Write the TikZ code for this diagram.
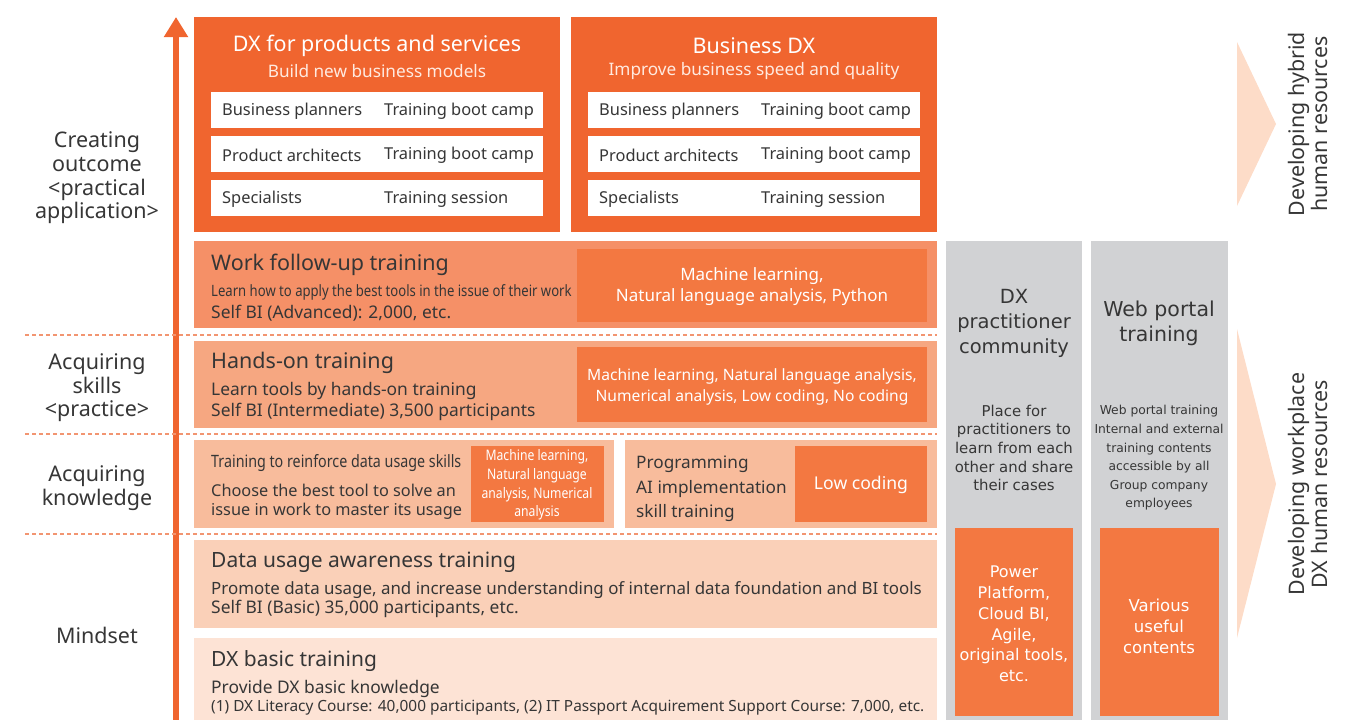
\documentclass[tikz,border=0pt]{standalone}
\usepackage{fontspec}
\setmainfont{Noto Sans}
\newfontfamily\cond[FakeStretch=0.84]{Noto Sans}
\newfontfamily\wide{DejaVu Sans}
\usetikzlibrary{arrows.meta}
\definecolor{ink}{HTML}{363636}
\definecolor{topor}{HTML}{F0652F}
\definecolor{inor}{HTML}{F37841}
\definecolor{bandA}{HTML}{F59067}
\definecolor{bandB}{HTML}{F6A781}
\definecolor{bandC}{HTML}{F8BC9C}
\definecolor{bandD}{HTML}{FAD0B8}
\definecolor{bandE}{HTML}{FDE3D5}
\definecolor{grey}{HTML}{D1D2D4}
\definecolor{dashc}{HTML}{F29571}
\definecolor{chev}{HTML}{FDDCC8}
\definecolor{paleW}{HTML}{FFEAE0}
\newcommand\bx[6]{\node[boxbase,#6,minimum width=#4pt,minimum height=#5pt] (#1) at (#2,#3) {};}
\newcommand\fs[2]{\fontsize{#1}{#2}\selectfont}
\begin{document}
\begin{tikzpicture}[x=1pt,y=-1pt,
  boxbase/.style={anchor=north west,inner sep=0pt,outer sep=0pt,draw=none},
  txt/.style={text=ink,inner sep=0pt,anchor=west},
  ctxt/.style={text=ink,inner sep=0pt,align=center},
  wtxt/.style={text=white,inner sep=0pt,align=center},
  dline/.style={draw=dashc,line width=1.4pt,dash pattern=on 4pt off 3pt}]
\useasboundingbox (0,0) rectangle (1368,720);

% vertical arrow
\coordinate (abot) at (176,720);
\coordinate (atop) at (176,17);
\draw[topor,line width=6pt,-{Triangle[width=23pt,length=20pt]}] (abot) -- (atop);

% left labels
\node[ctxt,font=\fs{21.5}{23.6}] (lab1) at (97,178) {Creating\\outcome\\<practical\\application>};
\node[ctxt,font=\fs{21.5}{23.6}] (lab2) at (97,388) {Acquiring\\skills\\<practice>};
\node[ctxt,font=\fs{21.5}{23.6}] (lab3) at (97,488) {Acquiring\\knowledge};
\node[ctxt,font=\fs{21.5}{23.6}] (lab4) at (97,635) {Mindset};

% dashed separators
\coordinate (d1a) at (25,335); \coordinate (d1b) at (937,335);
\coordinate (d2a) at (25,434); \coordinate (d2b) at (937,434);
\coordinate (d3a) at (25,534); \coordinate (d3b) at (937,534);
\draw[dline] (d1a) -- (d1b);
\draw[dline] (d2a) -- (d2b);
\draw[dline] (d3a) -- (d3b);

% top boxes
\bx{pbox}{194}{17}{366}{215}{fill=topor}
\node[wtxt,font=\fs{21.5}{24}] (ptitle) at (377,46) {DX for products and services};
\node[wtxt,text=paleW,font=\fs{17.2}{19}] (psub) at (377,71) {Build new business models};
\bx{pr1}{211}{92}{332}{36}{fill=white}
\bx{pr2}{211}{136}{332}{36}{fill=white}
\bx{pr3}{211}{180}{332}{36}{fill=white}
\node[txt,font=\fs{16.4}{19}] (pr1a) at (222,111) {Business planners};
\node[txt,font=\fs{16.4}{19}] (pr1b) at (384,111) {Training boot camp};
\node[txt,font=\fs{16.4}{19}] (pr2a) at (222,155) {Product architects};
\node[txt,font=\fs{16.4}{19}] (pr2b) at (384,155) {Training boot camp};
\node[txt,font=\fs{16.4}{19}] (pr3a) at (222,199) {Specialists};
\node[txt,font=\fs{16.4}{19}] (pr3b) at (384,199) {Training session};

\bx{bbox}{571}{17}{366}{215}{fill=topor}
\node[wtxt,font=\fs{21.5}{24}] (btitle) at (754,46) {Business DX};
\node[wtxt,text=paleW,font=\fs{17.2}{19}] (bsub) at (754,71) {Improve business speed and quality};
\bx{br1}{588}{92}{332}{36}{fill=white}
\bx{br2}{588}{136}{332}{36}{fill=white}
\bx{br3}{588}{180}{332}{36}{fill=white}
\node[txt,font=\fs{16.4}{19}] (br1a) at (599,111) {Business planners};
\node[txt,font=\fs{16.4}{19}] (br1b) at (761,111) {Training boot camp};
\node[txt,font=\fs{16.4}{19}] (br2a) at (599,155) {Product architects};
\node[txt,font=\fs{16.4}{19}] (br2b) at (761,155) {Training boot camp};
\node[txt,font=\fs{16.4}{19}] (br3a) at (599,199) {Specialists};
\node[txt,font=\fs{16.4}{19}] (br3b) at (761,199) {Training session};

% work follow-up
\bx{work}{194}{241}{743}{87}{fill=bandA}
\node[txt,font=\fs{21.5}{24}] (workt) at (211,265) {Work follow-up training};
\node[txt,font=\cond\fs{15.6}{18}] (workl1) at (211,292) {Learn how to apply the best tools in the issue of their work};
\node[txt,font=\fs{17.4}{19}] (workl2) at (211,313) {Self BI (Advanced): 2,000, etc.};
\bx{worki}{577}{249}{350}{73}{fill=inor}
\node[wtxt,font=\fs{17}{21}] (workit) at (752,287) {Machine learning,\\Natural language analysis, Python};

% hands-on
\bx{hand}{194}{341}{743}{87}{fill=bandB}
\node[txt,font=\fs{21.5}{24}] (handt) at (211,363) {Hands-on training};
\node[txt,font=\fs{17.4}{19}] (handl1) at (211,391) {Learn tools by hands-on training};
\node[txt,font=\fs{17.4}{19}] (handl2) at (211,412) {Self BI (Intermediate) 3,500 participants};
\bx{handi}{577}{347}{350}{75}{fill=inor}
\node[wtxt,font=\fs{15.6}{21}] (handit) at (752,387) {Machine learning, Natural language analysis,\\Numerical analysis, Low coding, No coding};

% knowledge
\bx{knA}{194}{440}{420}{88}{fill=bandC}
\node[txt,font=\cond\fs{17}{20}] (knAt) at (211,463) {Training to reinforce data usage skills};
\node[txt,font=\fs{16.3}{19}] (knAl1) at (211,490) {Choose the best tool to solve an};
\node[txt,font=\fs{16.3}{19}] (knAl2) at (211,511) {issue in work to master its usage};
\bx{knAi}{471}{446}{133}{76}{fill=inor}
\node[wtxt,font=\cond\fs{14.5}{18.7}] (knAit) at (537,485) {Machine learning,\\Natural language\\analysis, Numerical\\analysis};
\bx{knB}{625}{440}{312}{88}{fill=bandC}
\node[txt,align=left,font=\fs{17.2}{24.5}] (knBt) at (636,489) {Programming\\AI implementation\\skill training};
\bx{knBi}{795}{446}{132}{76}{fill=inor}
\node[wtxt,font=\fs{17.6}{20}] (knBit) at (861,485) {Low coding};

% data usage
\bx{data}{194}{540}{743}{88}{fill=bandD}
\node[txt,font=\fs{21}{24}] (datat) at (211,562) {Data usage awareness training};
\node[txt,font=\fs{16.9}{19}] (datal1) at (211,590) {Promote data usage, and increase understanding of internal data foundation and BI tools};
\node[txt,font=\fs{17.4}{19}] (datal2) at (211,609) {Self BI (Basic) 35,000 participants, etc.};

% DX basic
\bx{basic}{194}{638}{743}{82}{fill=bandE}
\node[txt,font=\fs{21}{24}] (basict) at (211,661) {DX basic training};
\node[txt,font=\fs{17.4}{19}] (basicl1) at (211,689) {Provide DX basic knowledge};
\node[txt,font=\fs{15.4}{19}] (basicl2) at (211,708) {(1) DX Literacy Course: 40,000 participants, (2) IT Passport Acquirement Support Course: 7,000, etc.};

% grey columns
\bx{g1}{946}{241}{136}{479}{fill=grey}
\node[ctxt,font=\wide\fs{19.5}{25}] (g1t) at (1014,323) {DX\\practitioner\\community};
\node[ctxt,font=\wide\fs{14.9}{18.6}] (g1d) at (1014,448) {Place for\\practitioners to\\learn from each\\other and share\\their cases};
\bx{g1i}{955}{528}{118}{188}{fill=inor}
\node[wtxt,font=\wide\fs{16}{20.8}] (g1it) at (1014,624) {Power\\Platform,\\Cloud BI,\\Agile,\\original tools,\\etc.};

\bx{g2}{1091}{241}{137}{479}{fill=grey}
\node[ctxt,font=\wide\fs{20.5}{25}] (g2t) at (1159,323) {Web portal\\training};
\node[ctxt,font=\wide\fs{12.3}{18.6}] (g2d) at (1159,458) {Web portal training\\Internal and external\\training contents\\accessible by all\\Group company\\employees};
\bx{g2i}{1100}{528}{119}{188}{fill=inor}
\node[wtxt,font=\wide\fs{16.5}{21}] (g2it) at (1159,626) {Various\\useful\\contents};

% chevrons
\fill[chev] (1237,42) -- (1276,124) -- (1237,206) -- cycle;
\fill[chev] (1237,329) -- (1276,484) -- (1237,638) -- cycle;
\node[ctxt,rotate=90,font=\fs{21.4}{23}] (hyb) at (1308,124) {Developing hybrid\\human resources};
\node[ctxt,rotate=90,font=\fs{21.4}{23}] (wrk) at (1308,484) {Developing workplace\\DX human resources};
\end{tikzpicture}
\end{document}
